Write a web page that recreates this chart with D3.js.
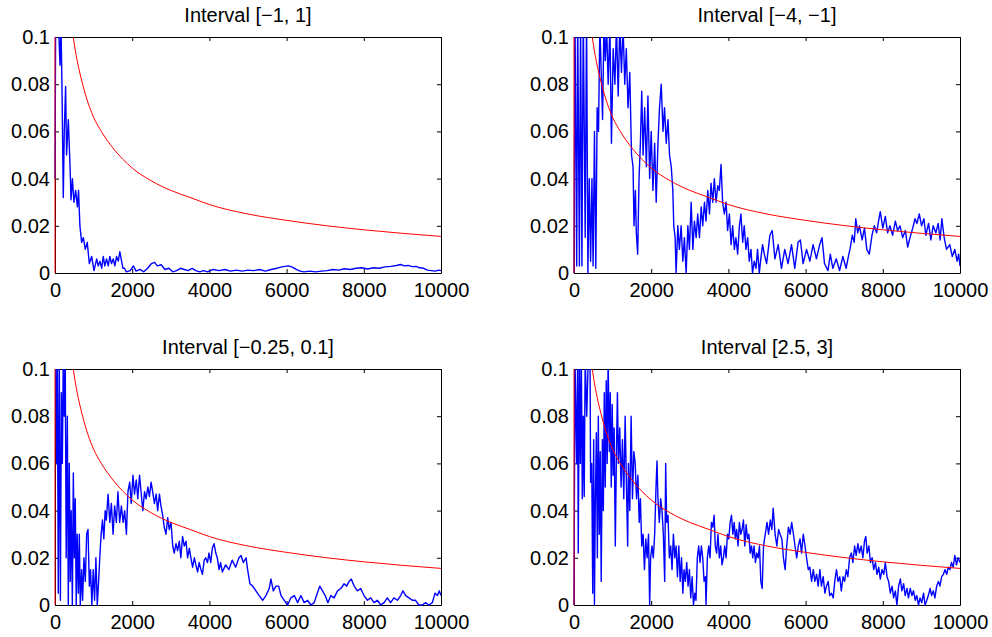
<!DOCTYPE html>
<html>
<head>
<meta charset="utf-8">
<script src="https://d3js.org/d3.v7.min.js"></script>
<style>
body { margin: 0; background: #fff; }
text { font-family: "Liberation Sans", Arial, Helvetica, sans-serif; }
</style>
</head>
<body>
<div id="chart"></div>
<script>
// panel titles and ticks
var titles = ["Interval [\u22121, 1]", "Interval [\u22124, \u22121]", "Interval [\u22120.25, 0.1]", "Interval [2.5, 3]"];
var xTicks = [0, 2000, 4000, 6000, 8000, 10000];
var yTicks = [0, 0.02, 0.04, 0.06, 0.08, 0.1];

// red reference curve (same in every panel)
var boundX = [0, 1, 50, 100, 200, 300, 400, 500, 600, 700, 800, 1000, 1200, 1500, 2000, 2500, 3000, 3500, 4000, 5000, 6000, 7000, 8000, 9000, 10000];
var boundY = [0, 2.34, 0.324, 0.227, 0.158, 0.128, 0.11, 0.097, 0.088, 0.081, 0.075, 0.066, 0.06, 0.053, 0.0445, 0.039, 0.035, 0.032, 0.029, 0.025, 0.0223, 0.0201, 0.0183, 0.0168, 0.0155];

// blue error curves, [n, value]
var run1 = [[0,0.04],[20,0.12],[80,0.11],[130,0.088],[155,0.105],[180,0.08],[215,0.032],[240,0.06],[275,0.079],[300,0.05],[345,0.065],[390,0.045],[415,0.031],[450,0.04],[490,0.03],[535,0.035],[580,0.028],[610,0.035],[645,0.02],[690,0.013],[735,0.015],[785,0.01],[835,0.013],[890,0.004],[950,0.007],[1010,0.001],[1080,0.006],[1120,0.003],[1165,0.005],[1210,0.002],[1250,0.007],[1290,0.003],[1335,0.006],[1380,0.003],[1420,0.007],[1465,0.004],[1510,0.006],[1550,0.003],[1595,0.007],[1640,0.005],[1680,0.009],[1725,0.005],[1760,0.002],[1800,0.002],[1850,0.0005],[1950,0.001],[2030,0.003],[2100,0.0008],[2200,0.0015],[2300,0.0005],[2400,0.002],[2500,0.004],[2580,0.0045],[2650,0.003],[2750,0.0035],[2850,0.0015],[2950,0.002],[3050,0.0005],[3150,0.001],[3250,0.002],[3350,0.0015],[3450,0.001],[3550,0.002],[3650,0.001],[3750,0.0005],[3850,0.001],[3950,0.0005],[4100,0.0015],[4250,0.001],[4400,0.0015],[4550,0.0008],[4700,0.0012],[4850,0.0008],[5000,0.0012],[5150,0.001],[5300,0.0015],[5450,0.0008],[5600,0.0015],[5750,0.002],[5850,0.0025],[5950,0.0028],[6050,0.003],[6150,0.0025],[6250,0.0015],[6350,0.0008],[6450,0.0005],[6600,0.0008],[6750,0.0005],[6900,0.0008],[7050,0.001],[7200,0.0015],[7350,0.0012],[7500,0.0018],[7650,0.0015],[7800,0.002],[7950,0.0022],[8100,0.0017],[8250,0.0022],[8400,0.002],[8550,0.0026],[8700,0.0028],[8850,0.0032],[8950,0.0036],[9050,0.003],[9150,0.0032],[9250,0.0027],[9350,0.0028],[9450,0.0022],[9550,0.002],[9650,0.0012],[9750,0.001],[9850,0.0008],[9950,0.0012],[10000,0.001]];

var run2 = [[0,0],[25,0.11],[70,0.003],[95,0.11],[140,0.003],[170,0.11],[205,0.003],[240,0.11],[290,0.015],[325,0.11],[360,0],[395,0.04],[430,0.005],[465,0.04],[495,0.003],[530,0.06],[565,0.002],[600,0.07],[635,0.06],[670,0.105],[705,0.085],[740,0.065],[775,0.105],[810,0.09],[845,0.105],[885,0.08],[930,0.105],[970,0.055],[1015,0.095],[1060,0.08],[1100,0.105],[1145,0.075],[1185,0.105],[1230,0.085],[1270,0.105],[1315,0.08],[1355,0.095],[1400,0.07],[1445,0.085],[1490,0.05],[1530,0.045],[1555,0.02],[1590,0.035],[1615,0.017],[1650,0.008],[1685,0.04],[1720,0.055],[1755,0.077],[1790,0.05],[1830,0.07],[1875,0.045],[1915,0.075],[1960,0.04],[2000,0.06],[2045,0.035],[2090,0.055],[2130,0.03],[2175,0.055],[2215,0.07],[2260,0.08],[2305,0.06],[2345,0.07],[2390,0.055],[2435,0.065],[2475,0.05],[2520,0.045],[2560,0.035],[2585,0.02],[2620,0.015],[2645,0],[2690,0.02],[2730,0.01],[2775,0.02],[2820,0.005],[2860,0.015],[2905,0],[2950,0.02],[2990,0.01],[3035,0.03],[3080,0.01],[3120,0.022],[3165,0.015],[3205,0.025],[3250,0.015],[3295,0.028],[3335,0.02],[3380,0.03],[3420,0.022],[3465,0.035],[3510,0.025],[3550,0.038],[3595,0.03],[3635,0.04],[3680,0.03],[3725,0.037],[3765,0.035],[3810,0.046],[3850,0.03],[3895,0.025],[3940,0.03],[3980,0.018],[4025,0.025],[4070,0.012],[4110,0.02],[4155,0.01],[4195,0.015],[4240,0.008],[4285,0.02],[4325,0.025],[4370,0.013],[4410,0.02],[4455,0.01],[4500,0.015],[4540,0.005],[4585,0.01],[4625,0],[4670,0.005],[4715,0.002],[4755,0.01],[4800,0],[4840,0.006],[4885,0.012],[4930,0.008],[4990,0.004],[5075,0.016],[5135,0.018],[5205,0.006],[5290,0.012],[5375,0.002],[5460,0.01],[5545,0.004],[5635,0.012],[5720,0.002],[5805,0.013],[5865,0.014],[5935,0.004],[6025,0.01],[6110,0.005],[6195,0.012],[6280,0.006],[6365,0.012],[6425,0.015],[6490,0.004],[6580,0.001],[6640,0.008],[6705,0.002],[6795,0.006],[6880,0.001],[6965,0.007],[7050,0.002],[7120,0.008],[7150,0.01],[7210,0.016],[7260,0.013],[7300,0.023],[7350,0.017],[7395,0.02],[7465,0.014],[7525,0.019],[7585,0.01],[7650,0.008],[7720,0.016],[7780,0.02],[7840,0.017],[7890,0.022],[7935,0.026],[8000,0.019],[8065,0.024],[8125,0.017],[8185,0.02],[8255,0.016],[8325,0.022],[8385,0.018],[8445,0.02],[8515,0.015],[8585,0.018],[8645,0.011],[8705,0.015],[8775,0.019],[8835,0.023],[8885,0.021],[8945,0.025],[9005,0.02],[9065,0.023],[9115,0.016],[9185,0.021],[9245,0.014],[9305,0.02],[9375,0.017],[9435,0.021],[9485,0.014],[9530,0.023],[9590,0.015],[9650,0.01],[9735,0.012],[9800,0.007],[9865,0.01],[9925,0.005],[9965,0.008],[10000,0.003]];

var run3 = [[0,0.11],[15,0.105],[45,0.06],[60,0.105],[85,0.005],[110,0.105],[140,0.002],[165,0.09],[190,0.06],[215,0.105],[240,0.08],[265,0.105],[290,0.02],[320,0.08],[345,0],[370,0.06],[395,0.01],[420,0.04],[450,0],[475,0.056],[500,0.02],[525,0.045],[550,0],[575,0.03],[605,0.005],[630,0.03],[655,0],[690,0.015],[715,0.002],[750,0.02],[785,0.01],[820,0.03],[855,0.032],[890,0.008],[920,0.015],[955,0],[990,0.015],[1025,0.002],[1060,0.02],[1095,0],[1130,0.01],[1160,0.02],[1195,0.03],[1230,0.036],[1265,0.028],[1300,0.04],[1330,0.036],[1375,0.047],[1420,0.035],[1460,0.043],[1505,0.03],[1545,0.042],[1590,0.035],[1630,0.048],[1675,0.035],[1720,0.042],[1765,0.035],[1805,0.04],[1850,0.03],[1890,0.048],[1935,0.052],[1975,0.043],[2020,0.055],[2060,0.047],[2105,0.053],[2145,0.045],[2190,0.055],[2230,0.048],[2275,0.04],[2320,0.048],[2360,0.045],[2405,0.05],[2445,0.046],[2490,0.052],[2530,0.048],[2575,0.043],[2620,0.047],[2660,0.04],[2705,0.047],[2745,0.042],[2790,0.038],[2830,0.033],[2875,0.03],[2920,0.037],[2960,0.032],[3005,0.035],[3050,0.025],[3090,0.022],[3135,0.026],[3175,0.023],[3220,0.027],[3260,0.02],[3305,0.029],[3350,0.025],[3395,0.027],[3435,0.02],[3480,0.024],[3520,0.02],[3565,0.016],[3610,0.02],[3650,0.017],[3695,0.014],[3735,0.018],[3780,0.015],[3820,0.013],[3865,0.019],[3905,0.02],[3950,0.018],[3990,0.022],[4035,0.018],[4075,0.024],[4120,0.026],[4165,0.022],[4205,0.02],[4250,0.015],[4290,0.018],[4335,0.014],[4420,0.017],[4505,0.015],[4590,0.019],[4680,0.016],[4765,0.02],[4820,0.021],[4880,0.018],[4950,0.02],[4990,0.015],[5050,0.009],[5120,0.008],[5205,0.006],[5290,0.004],[5380,0.002],[5465,0.004],[5550,0.007],[5595,0.011],[5655,0.006],[5725,0.008],[5795,0.008],[5855,0.004],[5940,0.002],[6025,0],[6110,0.003],[6200,0.004],[6285,0.001],[6370,0.004],[6455,0.001],[6545,0.002],[6630,0],[6715,0.001],[6775,0.004],[6860,0.008],[6930,0.006],[7000,0.004],[7070,0.001],[7145,0.004],[7230,0.003],[7320,0.006],[7405,0.007],[7490,0.009],[7555,0.008],[7620,0.01],[7675,0.011],[7750,0.008],[7835,0.006],[7920,0.007],[8005,0.004],[8095,0.002],[8180,0.003],[8265,0.001],[8350,0.002],[8440,0],[8525,0.001],[8610,0.003],[8695,0.001],[8780,0.003],[8870,0.002],[8955,0.004],[9015,0.006],[9085,0.004],[9170,0.003],[9255,0.002],[9340,0.002],[9425,0],[9515,0],[9600,0.001],[9685,0],[9775,0.001],[9845,0.005],[9910,0.004],[9955,0.006],[10000,0.004]];

var run4 = [[0,0],[25,0.105],[70,0.06],[95,0.105],[110,0.022],[140,0.105],[165,0.06],[190,0.105],[215,0.045],[240,0.08],[265,0.046],[290,0.105],[330,0.08],[370,0.105],[415,0.105],[430,0.052],[460,0.06],[485,0.005],[510,0.07],[530,0],[550,0.04],[580,0.073],[605,0.02],[630,0.08],[655,0.03],[680,0.065],[705,0.01],[735,0.07],[760,0.04],[785,0.09],[810,0.05],[835,0.095],[860,0.06],[885,0.105],[915,0.065],[940,0.09],[965,0.05],[990,0.085],[1015,0.055],[1040,0.075],[1070,0.025],[1100,0.065],[1125,0.09],[1150,0.06],[1185,0.075],[1220,0.05],[1255,0.07],[1290,0.045],[1325,0.08],[1360,0.05],[1390,0.025],[1410,0.06],[1445,0.04],[1480,0.08],[1515,0.045],[1550,0.065],[1585,0.06],[1620,0.045],[1655,0.055],[1690,0.035],[1720,0.045],[1755,0.025],[1790,0.03],[1825,0.015],[1860,0.028],[1895,0.02],[1930,0.03],[1960,0],[1985,0.02],[2020,0.025],[2055,0.02],[2090,0.03],[2125,0.05],[2150,0.061],[2175,0.045],[2210,0.035],[2245,0.045],[2280,0.04],[2315,0.03],[2350,0.01],[2375,0.06],[2400,0.035],[2435,0.038],[2470,0.02],[2505,0.025],[2540,0.015],[2575,0.03],[2610,0.02],[2645,0.025],[2680,0.012],[2715,0.025],[2750,0.01],[2785,0.02],[2820,0.005],[2850,0.015],[2885,0.01],[2920,0.018],[2955,0.008],[2990,0.015],[3025,0.003],[3060,0.012],[3095,0],[3130,0.005],[3160,0.002],[3195,0.02],[3230,0.025],[3265,0.018],[3300,0.025],[3335,0.02],[3370,0.01],[3405,0.012],[3420,0],[3455,0.02],[3490,0.025],[3525,0.02],[3560,0.035],[3595,0.033],[3630,0.038],[3660,0.025],[3695,0.022],[3730,0.03],[3765,0.02],[3800,0.025],[3835,0.017],[3870,0.02],[3905,0.025],[3940,0.02],[3975,0.03],[4010,0.028],[4045,0.035],[4080,0.038],[4115,0.03],[4150,0.035],[4180,0.028],[4215,0.032],[4250,0.025],[4285,0.035],[4320,0.03],[4355,0.032],[4390,0.036],[4425,0.025],[4460,0.034],[4495,0.028],[4530,0.03],[4565,0.022],[4600,0.025],[4630,0.02],[4665,0.025],[4700,0.018],[4735,0.022],[4770,0.02],[4805,0.025],[4840,0.01],[4875,0.007],[4910,0.025],[4955,0.03],[5000,0.035],[5040,0.03],[5085,0.036],[5125,0.032],[5160,0.041],[5210,0.03],[5255,0.025],[5300,0.032],[5340,0.03],[5385,0.028],[5425,0.02],[5470,0.015],[5510,0.025],[5555,0.033],[5600,0.03],[5640,0.035],[5685,0.03],[5725,0.025],[5770,0.02],[5810,0.025],[5855,0.028],[5895,0.022],[5940,0.03],[5985,0.025],[6025,0.02],[6070,0.015],[6110,0.016],[6155,0.01],[6200,0.015],[6240,0.01],[6285,0.013],[6325,0.008],[6370,0.015],[6410,0.008],[6455,0.012],[6500,0.005],[6540,0.008],[6585,0.01],[6625,0.004],[6670,0.005],[6715,0.003],[6755,0.01],[6800,0.015],[6840,0.01],[6885,0.012],[6925,0.006],[6970,0.012],[7010,0.01],[7055,0.015],[7095,0.012],[7140,0.02],[7185,0.022],[7225,0.018],[7270,0.025],[7310,0.021],[7355,0.026],[7395,0.022],[7440,0.025],[7485,0.02],[7525,0.027],[7560,0.029],[7595,0.022],[7640,0.025],[7680,0.018],[7725,0.02],[7765,0.015],[7810,0.018],[7850,0.013],[7895,0.016],[7935,0.011],[7980,0.015],[8025,0.013],[8065,0.018],[8110,0.012],[8150,0.01],[8195,0.005],[8240,0.008],[8280,0.003],[8325,0.006],[8365,0],[8410,0.008],[8455,0.011],[8495,0.006],[8540,0.009],[8580,0.004],[8625,0.007],[8665,0.003],[8710,0.007],[8755,0.004],[8795,0.006],[8840,0.002],[8880,0.004],[8925,0],[8965,0.003],[9010,0.001],[9055,0.005],[9095,0],[9140,0.002],[9180,0.004],[9225,0.007],[9265,0.004],[9310,0.006],[9350,0.003],[9395,0.008],[9440,0.01],[9480,0.008],[9525,0.012],[9570,0.013],[9610,0.015],[9655,0.013],[9695,0.016],[9740,0.015],[9780,0.018],[9825,0.016],[9865,0.021],[9910,0.017],[9950,0.02],[10000,0.018]];

var runs = [run1, run2, run3, run4];

// layout of the 2x2 grid
var width = 992, height = 637;
var panelW = 386, panelH = 236;
var lefts = [55, 574, 55, 574],
    tops = [37, 37, 369, 369];

var svg = d3.select("#chart")
  .append("svg")
    .attr("width", width)
    .attr("height", height);

var x = d3.scaleLinear().domain([0, 10000]).range([0, panelW]);
var y = d3.scaleLinear().domain([0, 0.1]).range([panelH, 0]);

var line = d3.line()
  .x(function(d) { return x(d[0]); })
  .y(function(d) { return y(d[1]); });

var smooth = d3.line()
  .curve(d3.curveMonotoneX)
  .x(function(d) { return x(d[0]); })
  .y(function(d) { return y(d[1]); });

var bound = boundX.map(function(v, i) { return [v, boundY[i]]; });

runs.forEach(function(run, i) {
  var g = svg.append("g")
    .attr("transform", "translate(" + lefts[i] + "," + tops[i] + ")");

  // axes, ticks pointing inward on all four sides
  g.append("g")
    .attr("transform", "translate(0," + panelH + ")")
    .call(d3.axisBottom(x).tickValues(xTicks).tickFormat(d3.format("d"))
      .tickSizeInner(-4).tickSizeOuter(0).tickPadding(10));
  g.append("g")
    .call(d3.axisLeft(y).tickValues(yTicks).tickFormat(d3.format("~g"))
      .tickSizeInner(-4).tickSizeOuter(0).tickPadding(5));
  g.append("g")
    .call(d3.axisTop(x).tickValues(xTicks).tickFormat("")
      .tickSizeInner(-4).tickSizeOuter(0));
  g.append("g")
    .attr("transform", "translate(" + panelW + ",0)")
    .call(d3.axisRight(y).tickValues(yTicks).tickFormat("")
      .tickSizeInner(-4).tickSizeOuter(0));

  g.selectAll(".domain, .tick line").attr("stroke", "#000");
  g.selectAll(".tick text")
    .attr("fill", "#000")
    .style("font-size", "20px")
    .style("font-family", "'Liberation Sans', Arial, Helvetica, sans-serif");

  // lines on top of the box, clipped to it
  g.append("clipPath")
      .attr("id", "clip" + i)
    .append("rect")
      .attr("x", -1)
      .attr("width", panelW + 1)
      .attr("height", panelH + 1);

  var plot = g.append("g").attr("clip-path", "url(#clip" + i + ")");

  plot.append("path")
    .datum(run)
    .attr("d", line)
    .attr("fill", "none")
    .attr("stroke", "#0000ff")
    .attr("stroke-width", 1.4)
    .attr("stroke-linejoin", "round");

  plot.append("path")
    .datum(bound)
    .attr("d", smooth)
    .attr("fill", "none")
    .attr("stroke", "#ff0000")
    .attr("stroke-width", 1);

  g.append("text")
    .attr("x", panelW / 2)
    .attr("y", -15)
    .attr("text-anchor", "middle")
    .style("font-size", "20px")
    .attr("fill", "#000")
    .text(titles[i]);
});
</script>
</body>
</html>
